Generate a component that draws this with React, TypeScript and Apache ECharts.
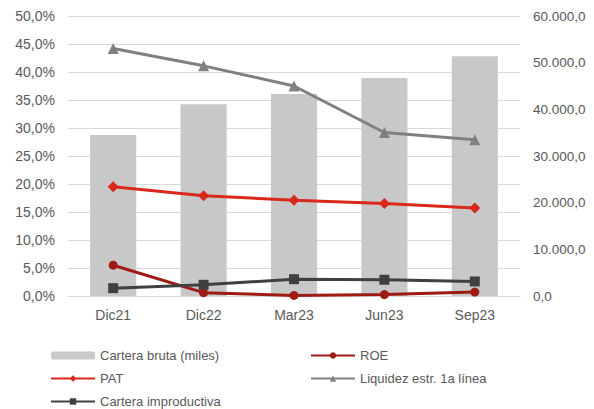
import React, { useEffect, useRef } from "react";
import * as echarts from "echarts";

const categories = ["Dic21", "Dic22", "Mar23", "Jun23", "Sep23"];
const carteraBruta = [34500, 41100, 43300, 46700, 51400];
const roe = [5.5, 0.6, 0.1, 0.25, 0.7];
const pat = [19.5, 17.9, 17.1, 16.5, 15.7];
const liquidez = [44.2, 41.1, 37.5, 29.2, 27.9];
const carteraImprod = [1.4, 2.0, 3.0, 2.9, 2.6];

const TEXT = "#595959";
const FONT = "Liberation Sans, Arial, sans-serif";

const fmtPct = (v: number) => v.toFixed(1).replace(".", ",") + "%";
const fmtNum = (v: number) => {
  const s = Math.round(v).toString().replace(/\B(?=(\d{3})+(?!\d))/g, ".");
  return s + ",0";
};

export default function App() {
  const ref = useRef<HTMLDivElement>(null);
  useEffect(() => {
    if (!ref.current) return;
    const chart = echarts.init(ref.current, undefined, { renderer: "svg" });
    const legendBase = {
      orient: "vertical" as const,
      itemWidth: 44,
      itemHeight: 8,
      itemGap: 6,
      textStyle: { color: TEXT, fontSize: 13, fontFamily: FONT },
      selectedMode: false,
      padding: 0,
    };
    chart.setOption({
      animation: false,
      grid: { left: 68, right: 74, top: 16, bottom: 113 },
      legend: [
        { ...legendBase, left: 50, top: 349, data: ["Cartera bruta (miles)", "PAT", "Cartera improductiva"], itemGap: 10 },
        { ...legendBase, left: 310, top: 349, data: ["ROE", "Liquidez estr. 1a línea"], itemGap: 10 },
      ],
      xAxis: {
        type: "category",
        data: categories,
        axisLine: { show: true, lineStyle: { color: "#d9d9d9", width: 1 } },
        axisTick: { show: false },
        axisLabel: { color: TEXT, fontSize: 14, fontFamily: FONT, margin: 12 },
      },
      yAxis: [
        {
          type: "value",
          min: 0,
          max: 50,
          interval: 5,
          axisLine: { show: false },
          axisTick: { show: false },
          splitLine: { lineStyle: { color: "#d9d9d9", width: 1 } },
          axisLabel: { color: TEXT, fontSize: 14, fontFamily: FONT, formatter: fmtPct, margin: 13 },
        },
        {
          type: "value",
          min: 0,
          max: 60000,
          interval: 10000,
          axisLine: { show: false },
          axisTick: { show: false },
          splitLine: { show: false },
          axisLabel: { color: TEXT, fontSize: 13.5, fontFamily: FONT, formatter: fmtNum, margin: 13 },
        },
      ],
      series: [
        {
          name: "Cartera bruta (miles)",
          type: "bar",
          yAxisIndex: 1,
          data: carteraBruta,
          barWidth: "51%",
          itemStyle: { color: "#c8c8c8" },
          z: 1,
        },
        {
          name: "ROE",
          type: "line",
          data: roe,
          symbol: "circle",
          symbolSize: 9,
          lineStyle: { color: "#9e1b13", width: 3 },
          itemStyle: { color: "#9e1b13" },
          z: 3,
        },
        {
          name: "PAT",
          type: "line",
          data: pat,
          symbol: "diamond",
          symbolSize: 11,
          lineStyle: { color: "#d9291c", width: 3 },
          itemStyle: { color: "#d9291c" },
          z: 3,
        },
        {
          name: "Liquidez estr. 1a línea",
          type: "line",
          data: liquidez,
          symbol: "triangle",
          symbolSize: 11,
          lineStyle: { color: "#808080", width: 3 },
          itemStyle: { color: "#808080" },
          z: 3,
        },
        {
          name: "Cartera improductiva",
          type: "line",
          data: carteraImprod,
          symbol: "rect",
          symbolSize: 10,
          lineStyle: { color: "#404040", width: 3 },
          itemStyle: { color: "#404040" },
          z: 4,
        },
      ],
    });
    return () => chart.dispose();
  }, []);
  return <div ref={ref} style={{ width: 594, height: 409, position: "absolute", left: 0, top: 0 }} />;
}
